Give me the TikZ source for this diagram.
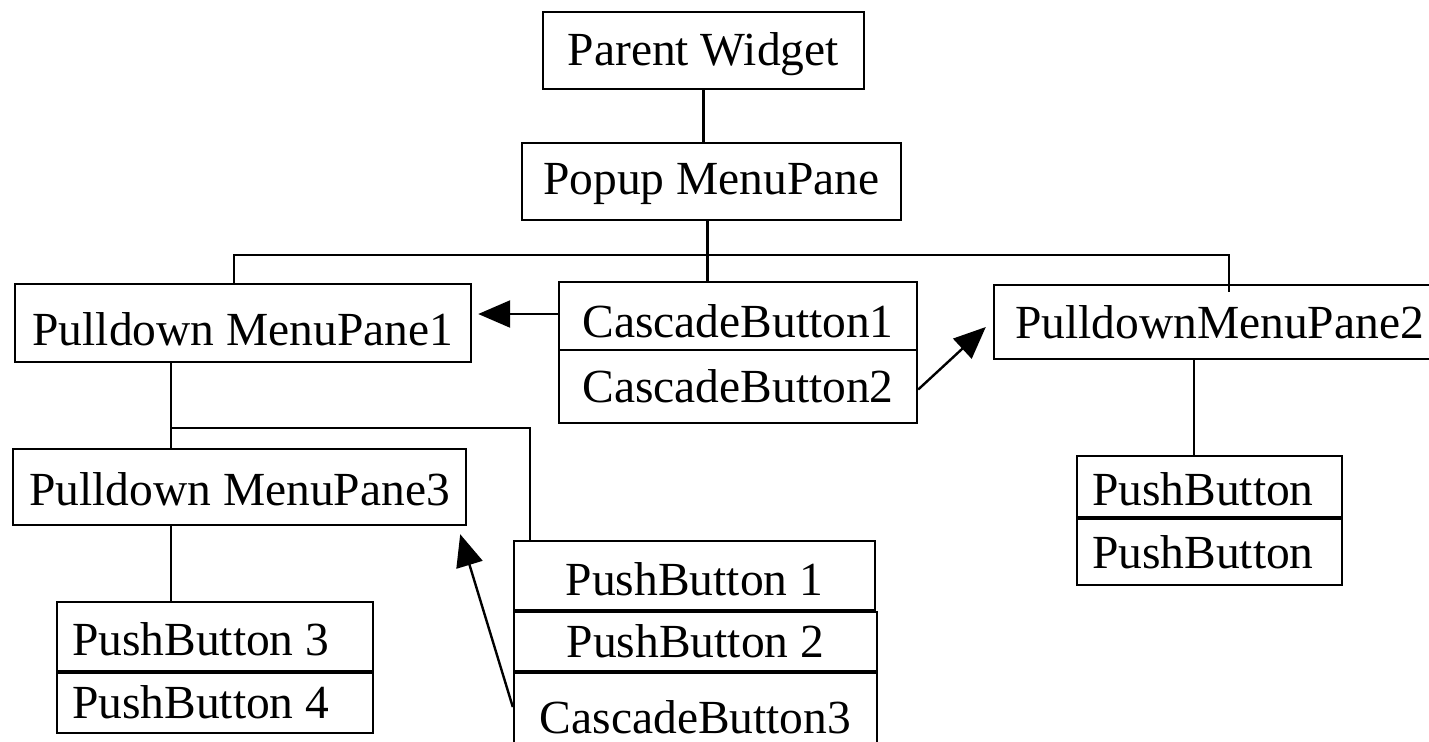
\documentclass[tikz,border=0pt]{standalone}
\usepackage{fontspec}
\setmainfont{Liberation Serif}
\usetikzlibrary{arrows.meta}

\begin{document}
\begin{tikzpicture}[x=0.5pt,y=-0.5pt]
\tikzstyle{box}=[rectangle,draw,line width=1.2pt,inner sep=0pt,font=\fontsize{23.75pt}{28pt}\selectfont,text height=16pt,text depth=0pt]
\tikzstyle{boxl}=[box,align=flush left,inner xsep=7.5pt]
\tikzstyle{link}=[line width=1.2pt]
\tikzstyle{ptr}=[line width=1.2pt,-{Triangle[length=16pt,width=13.5pt]}]
\useasboundingbox (0,0) rectangle (1429,741);
\node [box,minimum width=160.5pt,minimum height=38.5pt,text height=14.5pt] (pw) at (703.3,50.5) {Parent Widget};
\node [box,minimum width=189.5pt,minimum height=38.5pt,text height=12.5pt] (pmp) at (711.5,181.5) {Popup MenuPane};
\node [box,minimum width=228pt,minimum height=39pt,text height=22pt] (pm1) at (243,323) {Pulldown MenuPane1};
\node [box,minimum width=179pt,minimum height=34pt,text height=21pt] (cb1) at (738,316) {CascadeButton1};
\node [box,minimum width=179pt,minimum height=36.5pt,text height=15.5pt] (cb2) at (738,386.5) {CascadeButton2};
\node [boxl,inner xsep=10.5pt,text width=199.5pt,minimum height=37pt,text height=16pt] (pm2) at (1214.5,322) {PulldownMenuPane2};
\node [box,minimum width=226.5pt,minimum height=38pt,text height=18pt] (pm3) at (239.5,487) {Pulldown MenuPane3};
\node [boxl,text width=117.5pt,minimum height=30.5pt,text height=18.5pt] (pbA) at (1209.5,486.5) {PushButton};
\node [boxl,text width=117.5pt,minimum height=33pt,text height=16pt] (pbB) at (1209.5,552) {PushButton};
\node [box,minimum width=180.5pt,minimum height=34.5pt,text height=19.5pt] (pb1) at (694.5,575.5) {PushButton 1};
\node [box,minimum width=181.5pt,minimum height=29.5pt,text height=15.5pt] (pb2) at (695.5,641.5) {PushButton 2};
\node [box,minimum width=181.5pt,minimum height=46pt,text height=14pt] (cb3) at (695.5,719) {CascadeButton3};
\node [boxl,text width=143pt,minimum height=34.5pt,text height=18.5pt] (pb3) at (215,636.5) {PushButton 3};
\node [boxl,text width=143pt,minimum height=30pt,text height=15pt] (pb4) at (215,703) {PushButton 4};
% tree lines
\coordinate (busL) at (234,255);
\coordinate (busR) at (1229,255);
\coordinate (tick) at (1229,292);
\coordinate (fork) at (171,428);
\coordinate (forkR) at (530,428);
\draw [link] (pw.south) -- (pw.south |- pmp.north);
\draw [link] ([xshift=-2pt]pmp.south) -- ([xshift=-2pt]pmp.south |- cb1.north);
\draw [link] (busL |- pm1.north) -- (busL) -- (busR) -- (tick);
\draw [link] (fork |- pm1.south) -- (fork |- pm3.north);
\draw [link] (fork) -- (forkR) -- (forkR |- pb1.north);
\draw [link] (fork |- pm3.south) -- (fork |- pb3.north);
\draw [link] ([xshift=-10.25pt]pm2.south) -- ([xshift=-10.25pt]pm2.south |- pbA.north);
% cascade pointers
\draw [ptr,shorten >=3pt] ([yshift=1pt]cb1.west) -- ([yshift=1pt]cb1.west -| pm1.east);
\draw [ptr] ([yshift=-1.5pt]cb2.east) -- ([xshift=-3.5pt,yshift=-2.5pt]pm2.west);
\draw [ptr] ([yshift=6pt]cb3.west) -- ([xshift=-3.5pt,yshift=-4pt]pm3.south east);
\end{tikzpicture}
\end{document}
